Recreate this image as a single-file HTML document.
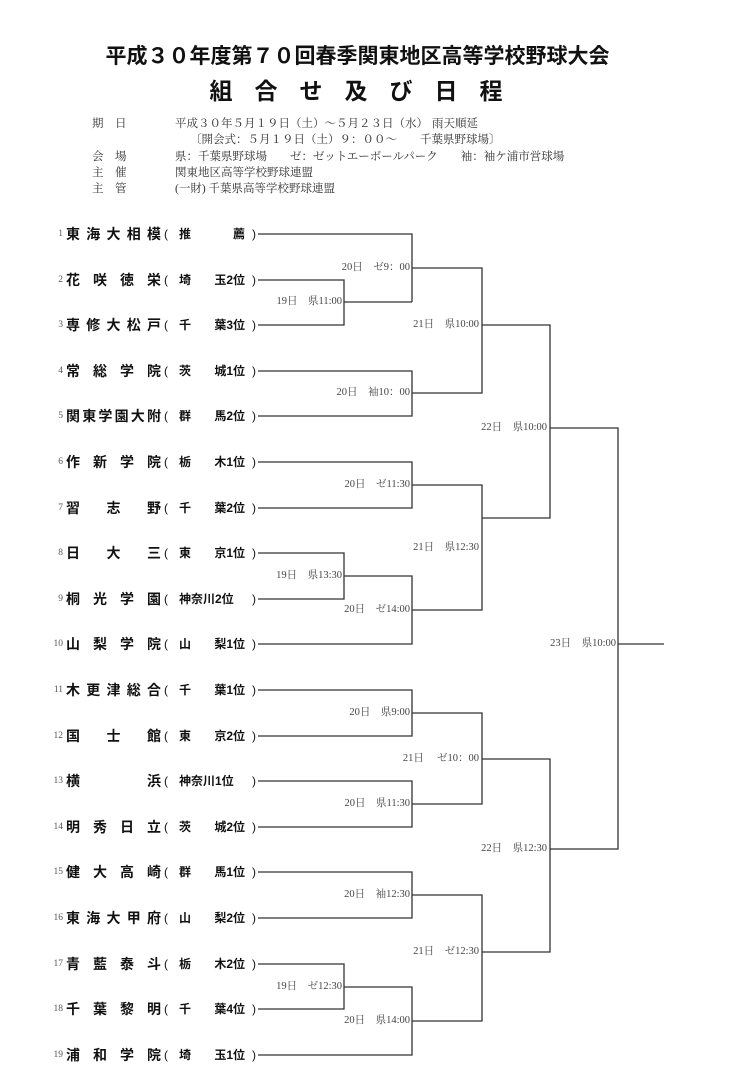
<!DOCTYPE html>
<html><head><meta charset="utf-8"><style>
body{margin:0;background:#fff;}
#p{position:relative;width:749px;height:1091px;overflow:hidden;background:#fff;}
.t1{position:absolute;left:0;width:715px;text-align:center;top:40px;font:bold 21px "Liberation Sans","Noto Sans CJK JP",sans-serif;color:#111;}
.t2{position:absolute;left:0;width:712px;text-align:center;top:72px;font:bold 23px "Liberation Sans","Noto Sans CJK JP",sans-serif;color:#111;letter-spacing:22px;text-indent:22px;}
.inf{position:absolute;font:11.5px "Liberation Serif","Noto Serif CJK SC",serif;color:#333;white-space:nowrap;line-height:14px;}
.num{position:absolute;left:44px;width:19px;text-align:right;font:9.5px "Liberation Serif",serif;color:#555;line-height:14px;}
.nm{position:absolute;left:66px;width:95px;display:flex;justify-content:space-between;font:bold 14px "Liberation Sans","Noto Sans CJK JP",sans-serif;color:#111;line-height:14px;height:14px;}
.pr{position:absolute;left:164px;width:92px;font:bold 12px "Liberation Sans","Noto Sans CJK JP",sans-serif;color:#111;line-height:14px;height:14px;}
.pr .o{position:absolute;left:0;font-weight:normal;}
.pr .c{position:absolute;right:0;font-weight:normal;}
.pr .in{position:absolute;left:15px;width:66px;display:flex;justify-content:space-between;}
.lb{position:absolute;font:10.5px "Liberation Serif","Noto Serif CJK SC",serif;color:#444;white-space:nowrap;text-align:right;width:100px;line-height:12px;}
svg{position:absolute;left:0;top:0;}
</style></head><body><div id="p">
<div class="t1">平成３０年度第７０回春季関東地区高等学校野球大会</div>
<div class="t2">組合せ及び日程</div>
<div class="inf" style="left:92px;top:117px">期　日</div>
<div class="inf" style="left:175px;top:117px">平成３０年５月１９日（土）～５月２３日（水）</div>
<div class="inf" style="left:432px;top:117px">雨天順延</div>
<div class="inf" style="left:190px;top:133px">〔開会式：５月１９日（土）９：００～　　千葉県野球場〕</div>
<div class="inf" style="left:92px;top:150px">会　場</div>
<div class="inf" style="left:175px;top:150px">県：千葉県野球場　　ゼ：ゼットエーボールパーク　　袖：袖ケ浦市営球場</div>
<div class="inf" style="left:92px;top:166px">主　催</div>
<div class="inf" style="left:175px;top:166px">関東地区高等学校野球連盟</div>
<div class="inf" style="left:92px;top:182px">主　管</div>
<div class="inf" style="left:175px;top:182px">(一財) 千葉県高等学校野球連盟</div>

<svg width="749" height="1091" stroke="#333" stroke-width="1.3" fill="none">
<path d="M258 234H412V302M258 280H344V325H258M344 302H412"/>
<path d="M412 268H482V393H412M258 371H412V416H258"/>
<path d="M482 325H550V518H482"/>
<path d="M258 462H412V508H258M412 485H482V610H412"/>
<path d="M258 553H344V599H258M344 576H412V644H258"/>
<path d="M550 428H618V849H550M618 644H664"/>
<path d="M258 690H412V736H258M412 713H482V804H412M258 781H412V827H258"/>
<path d="M482 759H550V952H482"/>
<path d="M258 872H412V918H258M412 895H482V1021H412"/>
<path d="M258 964H344V1009H258M344 987H412V1055H258"/>
</svg>

<div class="lb" style="left:242px;top:296px">19日　県11:00</div>
<div class="lb" style="left:310px;top:262px">20日　ゼ9：00</div>
<div class="lb" style="left:310px;top:387px">20日　袖10：00</div>
<div class="lb" style="left:379px;top:319px">21日　県10:00</div>
<div class="lb" style="left:447px;top:422px">22日　県10:00</div>
<div class="lb" style="left:310px;top:479px">20日　ゼ11:30</div>
<div class="lb" style="left:379px;top:542px">21日　県12:30</div>
<div class="lb" style="left:242px;top:570px">19日　県13:30</div>
<div class="lb" style="left:310px;top:604px">20日　ゼ14:00</div>
<div class="lb" style="left:516px;top:638px">23日　県10:00</div>
<div class="lb" style="left:310px;top:707px">20日　県9:00</div>
<div class="lb" style="left:379px;top:753px">21日　 ゼ10：00</div>
<div class="lb" style="left:310px;top:798px">20日　県11:30</div>
<div class="lb" style="left:447px;top:843px">22日　県12:30</div>
<div class="lb" style="left:310px;top:889px">20日　袖12:30</div>
<div class="lb" style="left:379px;top:946px">21日　ゼ12:30</div>
<div class="lb" style="left:242px;top:981px">19日　ゼ12:30</div>
<div class="lb" style="left:310px;top:1015px">20日　県14:00</div>

<div class="num" style="top:227px">1</div><div class="nm" style="top:227px"><span>東</span><span>海</span><span>大</span><span>相</span><span>模</span></div><div class="pr" style="top:227px"><span class="o">(</span><span class="in"><span>推</span><span>薦</span></span><span class="c">)</span></div>
<div class="num" style="top:273px">2</div><div class="nm" style="top:273px"><span>花</span><span>咲</span><span>徳</span><span>栄</span></div><div class="pr" style="top:273px"><span class="o">(</span><span class="in"><span>埼</span><span>玉2位</span></span><span class="c">)</span></div>
<div class="num" style="top:318px">3</div><div class="nm" style="top:318px"><span>専</span><span>修</span><span>大</span><span>松</span><span>戸</span></div><div class="pr" style="top:318px"><span class="o">(</span><span class="in"><span>千</span><span>葉3位</span></span><span class="c">)</span></div>
<div class="num" style="top:364px">4</div><div class="nm" style="top:364px"><span>常</span><span>総</span><span>学</span><span>院</span></div><div class="pr" style="top:364px"><span class="o">(</span><span class="in"><span>茨</span><span>城1位</span></span><span class="c">)</span></div>
<div class="num" style="top:409px">5</div><div class="nm" style="top:409px"><span>関</span><span>東</span><span>学</span><span>園</span><span>大</span><span>附</span></div><div class="pr" style="top:409px"><span class="o">(</span><span class="in"><span>群</span><span>馬2位</span></span><span class="c">)</span></div>
<div class="num" style="top:455px">6</div><div class="nm" style="top:455px"><span>作</span><span>新</span><span>学</span><span>院</span></div><div class="pr" style="top:455px"><span class="o">(</span><span class="in"><span>栃</span><span>木1位</span></span><span class="c">)</span></div>
<div class="num" style="top:501px">7</div><div class="nm" style="top:501px"><span>習</span><span>志</span><span>野</span></div><div class="pr" style="top:501px"><span class="o">(</span><span class="in"><span>千</span><span>葉2位</span></span><span class="c">)</span></div>
<div class="num" style="top:546px">8</div><div class="nm" style="top:546px"><span>日</span><span>大</span><span>三</span></div><div class="pr" style="top:546px"><span class="o">(</span><span class="in"><span>東</span><span>京1位</span></span><span class="c">)</span></div>
<div class="num" style="top:592px">9</div><div class="nm" style="top:592px"><span>桐</span><span>光</span><span>学</span><span>園</span></div><div class="pr" style="top:592px"><span class="o">(</span><span class="in"><span>神奈川2位</span></span><span class="c">)</span></div>
<div class="num" style="top:637px">10</div><div class="nm" style="top:637px"><span>山</span><span>梨</span><span>学</span><span>院</span></div><div class="pr" style="top:637px"><span class="o">(</span><span class="in"><span>山</span><span>梨1位</span></span><span class="c">)</span></div>
<div class="num" style="top:683px">11</div><div class="nm" style="top:683px"><span>木</span><span>更</span><span>津</span><span>総</span><span>合</span></div><div class="pr" style="top:683px"><span class="o">(</span><span class="in"><span>千</span><span>葉1位</span></span><span class="c">)</span></div>
<div class="num" style="top:729px">12</div><div class="nm" style="top:729px"><span>国</span><span>士</span><span>館</span></div><div class="pr" style="top:729px"><span class="o">(</span><span class="in"><span>東</span><span>京2位</span></span><span class="c">)</span></div>
<div class="num" style="top:774px">13</div><div class="nm" style="top:774px"><span>横</span><span>浜</span></div><div class="pr" style="top:774px"><span class="o">(</span><span class="in"><span>神奈川1位</span></span><span class="c">)</span></div>
<div class="num" style="top:820px">14</div><div class="nm" style="top:820px"><span>明</span><span>秀</span><span>日</span><span>立</span></div><div class="pr" style="top:820px"><span class="o">(</span><span class="in"><span>茨</span><span>城2位</span></span><span class="c">)</span></div>
<div class="num" style="top:865px">15</div><div class="nm" style="top:865px"><span>健</span><span>大</span><span>高</span><span>崎</span></div><div class="pr" style="top:865px"><span class="o">(</span><span class="in"><span>群</span><span>馬1位</span></span><span class="c">)</span></div>
<div class="num" style="top:911px">16</div><div class="nm" style="top:911px"><span>東</span><span>海</span><span>大</span><span>甲</span><span>府</span></div><div class="pr" style="top:911px"><span class="o">(</span><span class="in"><span>山</span><span>梨2位</span></span><span class="c">)</span></div>
<div class="num" style="top:957px">17</div><div class="nm" style="top:957px"><span>青</span><span>藍</span><span>泰</span><span>斗</span></div><div class="pr" style="top:957px"><span class="o">(</span><span class="in"><span>栃</span><span>木2位</span></span><span class="c">)</span></div>
<div class="num" style="top:1002px">18</div><div class="nm" style="top:1002px"><span>千</span><span>葉</span><span>黎</span><span>明</span></div><div class="pr" style="top:1002px"><span class="o">(</span><span class="in"><span>千</span><span>葉4位</span></span><span class="c">)</span></div>
<div class="num" style="top:1048px">19</div><div class="nm" style="top:1048px"><span>浦</span><span>和</span><span>学</span><span>院</span></div><div class="pr" style="top:1048px"><span class="o">(</span><span class="in"><span>埼</span><span>玉1位</span></span><span class="c">)</span></div>
</div></body></html>
